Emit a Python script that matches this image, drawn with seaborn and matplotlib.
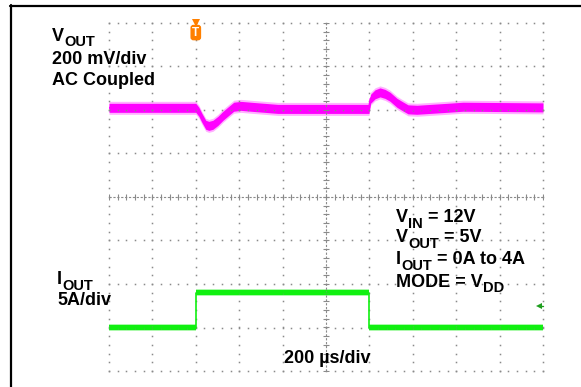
import numpy as np
import pandas as pd
import matplotlib
matplotlib.use("Agg")
import matplotlib.pyplot as plt
import seaborn as sns
from matplotlib.lines import Line2D

# ---------------- data (read from the scope capture) ----------------
time_vout_us = [0, 400, 414, 428, 446, 460, 479, 502, 525, 552, 575, 608, 654, 778,
                1022, 1198, 1205, 1226, 1249, 1272, 1295, 1327, 1350, 1378, 1419,
                1558, 1631, 2000]
vout_mv = [0, 0, -18, -46, -78, -83, -78, -60, -37, -14, 5, 9, 5, -5,
           -5, -5, 41, 62, 71, 64, 51, 23, 9, -7, -9,
           0, 5, 2]

time_iout_us = [0, 400, 400, 1200, 1200, 2000]
iout_a = [0, 0, 4, 4, 0, 0]

vout_mv_per_div = 200
iout_a_per_div = 5
time_us_per_div = 200
vout_offset_div = 2.05
iout_offset_div = -3.0
trigger_time_us = 400
trigger_level_a = 2.5

# ---------------- style ----------------
sns.set_theme(style="white")
plt.rcParams['font.family'] = ['Liberation Sans', 'DejaVu Sans']

W, H = 581, 387
fig = plt.figure(figsize=(W / 100, H / 100), dpi=100)
fig.patch.set_facecolor('white')
ax = fig.add_axes([109 / W, 1 - 371 / H, 434 / W, 348 / H])
ax.set_xlim(0, 10 * time_us_per_div)
ax.set_ylim(-4, 4)
ax.axis('off')
px_per_div = 348 / 8

grid_color = '#8a8a8a'
# ---------------- graticule ----------------
gx = np.arange(0, 10 * time_us_per_div + 1, time_us_per_div / 5)
gy = np.arange(-4, 4.001, 0.2)
for i in range(11):
    if i == 5:
        continue
    ax.plot(np.full_like(gy, i * time_us_per_div), gy, ls='none', marker='s',
            ms=1.1, mew=0, color=grid_color, clip_on=False)
for j in range(-4, 5):
    if j == 0:
        continue
    ax.plot(gx, np.full(len(gx), float(j)), ls='none', marker='s',
            ms=1.1, mew=0, color=grid_color, clip_on=False)
# centre axes with minor tick marks
ax.plot([0, 10 * time_us_per_div], [0, 0], color=grid_color, lw=0.8, dashes=(2, 1.5))
ax.plot(gx, np.zeros(len(gx)), ls='none', marker='|', ms=4, mew=0.8, color=grid_color)
ax.plot([5 * time_us_per_div] * 2, [-4, 4], color=grid_color, lw=0.8, dashes=(2, 1.5))
ax.plot(np.full_like(gy, 5 * time_us_per_div), gy, ls='none', marker='_', ms=4,
        mew=0.8, color=grid_color)

# ---------------- traces ----------------
df_v = pd.DataFrame({'t': time_vout_us,
                     'y': vout_offset_div + np.array(vout_mv) / vout_mv_per_div})
df_i = pd.DataFrame({'t': time_iout_us,
                     'y': iout_offset_div + np.array(iout_a) / iout_a_per_div})

mag = '#ff00ff'
ax.fill_between(df_v.t, df_v.y - 6.5 / px_per_div, df_v.y + 6.5 / px_per_div,
                color=mag, alpha=0.3, lw=0)
ax.fill_between(df_v.t, df_v.y - 4.5 / px_per_div, df_v.y + 4.5 / px_per_div,
                color=mag, lw=0)
sns.lineplot(data=df_v, x='t', y='y', ax=ax, color=mag, lw=1.5, sort=False,
             estimator=None)

grn = '#10f010'
ax.fill_between(df_i.t, df_i.y - 3.5 / px_per_div, df_i.y + 3.5 / px_per_div,
                color=grn, alpha=0.35, lw=0)
ax.fill_between(df_i.t, df_i.y - 2.3 / px_per_div, df_i.y + 2.3 / px_per_div,
                color=grn, lw=0)
sns.lineplot(data=df_i, x='t', y='y', ax=ax, color=grn, lw=1.2, sort=False,
             estimator=None)
ax.set_xlabel('')
ax.set_ylabel('')

# trigger markers
orange = '#ff8000'
ax.plot([trigger_time_us], [4.0], marker='v', ms=6, color=orange, mew=0, clip_on=False)
ax.text(trigger_time_us, 3.78, 'T', color='white', fontsize=8.5, fontweight='bold',
        ha='center', va='center', clip_on=False,
        bbox=dict(boxstyle='round,pad=0.15,rounding_size=0.25', fc=orange, ec='none'))
lvl = iout_offset_div + trigger_level_a / iout_a_per_div
ax.plot([1982], [lvl], marker='<', ms=5, mew=0, color='#1f9f1f', clip_on=False)
ax.plot([1982, 2000], [lvl, lvl], lw=1.0, color='#1f9f1f', clip_on=False)

# ---------------- text ----------------
renderer = fig.canvas.get_renderer()
MAIN_FS = 13
SUB_FS = 10.5
SUB_DROP = 5.5


def rich(x, y, segments):
    cx = x
    for s, sub in segments:
        fs = SUB_FS if sub else MAIN_FS
        yy = y + (SUB_DROP if sub else 0)
        t = fig.text(cx / W, 1 - yy / H, s, fontsize=fs, fontweight='bold',
                     va='baseline', ha='left', color='black')
        cx += t.get_window_extent(renderer).width


rich(52, 41, [("V", False), ("OUT", True)])
rich(52, 64, [("200 mV/div", False)])
rich(52, 85, [("AC Coupled", False)])
rich(57, 284, [("I", False), ("OUT", True)])
rich(57, 305, [("5A/div", False)])
rich(396, 222, [("V", False), ("IN", True), (" = 12V", False)])
rich(396, 242, [("V", False), ("OUT", True), (" = 5V", False)])
rich(396, 264, [("I", False), ("OUT", True), (" = 0A to 4A", False)])
rich(396, 287, [("MODE = V", False), ("DD", True)])
rich(284, 363, [("200 µs/div", False)])

# ---------------- outer frame ----------------
fig.add_artist(Line2D([11 / W, 11 / W], [0, 1 - 5 / H], transform=fig.transFigure,
                      color='black', lw=1.6))
fig.add_artist(Line2D([10 / W, 1], [1 - 6 / H, 1 - 6 / H], transform=fig.transFigure,
                      color='black', lw=1.6))

fig.savefig('out.png', dpi=100)
